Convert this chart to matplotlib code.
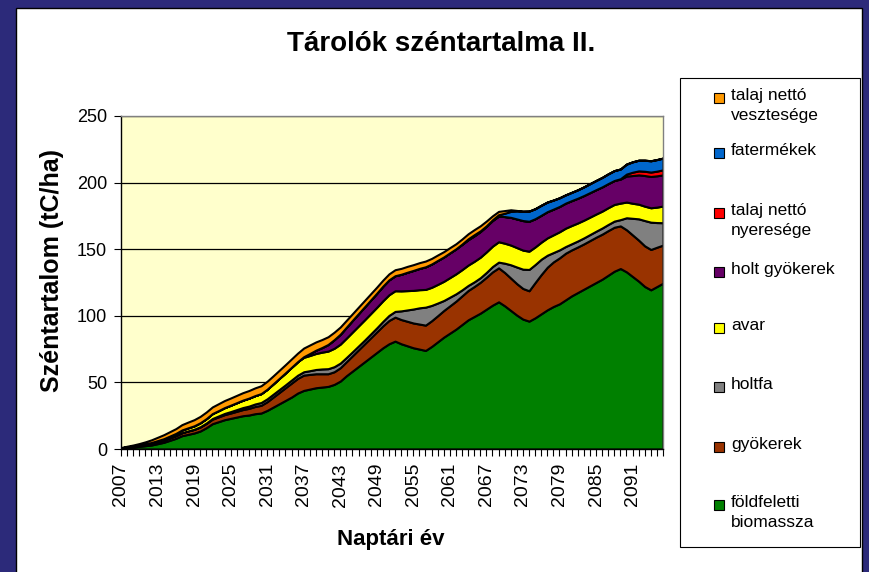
import numpy as np
import matplotlib
matplotlib.use("Agg")
import matplotlib.pyplot as plt
import matplotlib.patches as mpatches
from matplotlib.ticker import MultipleLocator

plt.rcParams['font.family'] = ['Liberation Sans', 'DejaVu Sans']

# --- data (tC/ha per year, stacked bottom -> top) ---
years = np.arange(2007, 2097)

foldfeletti = [
    0.5, 1, 1.5, 2, 2.5, 3, 4, 5, 6.5, 8,
    10, 11, 12, 13.5, 16, 19, 20.5, 22, 23, 24,
    25, 25.5, 26.5, 27, 29, 31.5, 34, 36.5, 39, 42,
    44, 45, 46, 46.5, 47, 48.5, 51, 55, 58.5, 62,
    65.5, 69, 72.5, 76, 79, 81, 79, 77.5, 76, 75,
    74, 77, 80.5, 84, 87, 90, 93.5, 97, 99.5, 102,
    105, 108, 110.5, 107.5, 104, 100.5, 97.5, 96, 98.5, 101.5,
    104.5, 107, 109, 112, 115, 117.5, 120, 122.5, 125, 127.5,
    130.5, 133.5, 135.5, 133, 129.5, 126, 122, 119.5, 122, 124.5,
]
gyokerek = [
    0.3, 0.5, 0.6, 0.8, 1.0, 1.2, 1.4, 1.6, 1.8, 2.0,
    2.2, 2.5, 2.7, 3.0, 3.2, 3.4, 3.6, 3.8, 4.0, 4.3,
    4.6, 5.0, 5.4, 5.8, 6.5, 7.5, 8.5, 9.5, 10.5, 11.0,
    11.5, 11.0, 10.5, 10.0, 9.5, 9.5, 10.0, 10.5, 11.5, 12.5,
    13.5, 14.5, 15.5, 16.5, 17.5, 18.0, 18.2, 18.4, 18.6, 18.8,
    19.0, 19.3, 19.6, 20.0, 20.5, 21.0, 21.5, 22.0, 22.5, 23.2,
    24.0, 25.0, 25.5, 25.0, 24.3, 23.6, 23.0, 22.8, 26.5, 29.5,
    32.0, 33.5, 34.5, 35.0, 34.5, 34.2, 34.0, 34.0, 34.0, 33.8,
    33.5, 33.0, 32.0, 31.6, 31.2, 30.8, 30.5, 30.3, 29.5, 28.6,
]
holtfa = [
    0, 0, 0, 0, 0, 0.1, 0.1, 0.1, 0.1, 0.1,
    0.1, 0.1, 0.1, 0.2, 0.3, 0.5, 0.7, 0.9, 1.1, 1.3,
    1.5, 1.7, 1.9, 2.1, 2.2, 2.2, 2.2, 2.2, 2.3, 2.4,
    2.5, 2.8, 3.2, 3.6, 3.8, 3.8, 3.5, 3.2, 3.0, 2.9,
    2.8, 2.9, 3.0, 3.3, 3.8, 4.3, 6.5, 8.5, 10.5, 12.2,
    13.5, 11.5, 9.5, 7.5, 6.5, 5.5, 4.5, 3.8, 3.5, 3.4,
    3.6, 4.0, 4.3, 7.0, 10.0, 12.5, 14.5, 16.0, 13.5, 11.5,
    9.0, 7.0, 6.0, 5.0, 4.6, 4.5, 4.5, 4.5, 4.5, 4.6,
    4.6, 4.6, 4.7, 9.0, 12.5, 16.0, 19.0, 20.5, 18.5, 16.8,
]
avar = [
    0, 0.1, 0.2, 0.3, 0.4, 0.6, 0.8, 1.0, 1.3, 1.6,
    2.0, 2.3, 2.6, 3.0, 3.3, 3.7, 4.0, 4.4, 4.8, 5.2,
    5.6, 6.0, 6.3, 6.7, 7.2, 7.8, 8.4, 9.0, 9.6, 10.2,
    10.8, 11.4, 12.0, 12.6, 13.2, 13.8, 14.2, 14.5, 14.8, 15.0,
    15.2, 15.3, 15.4, 15.5, 15.5, 15.5, 15.0, 14.5, 14.0, 13.6,
    13.3, 13.6, 14.0, 14.4, 14.7, 15.0, 15.2, 15.3, 15.4, 15.4,
    15.4, 15.3, 15.3, 15.0, 14.8, 14.6, 14.3, 13.7, 13.2, 12.8,
    13.0, 13.3, 13.6, 13.8, 13.7, 13.5, 13.3, 13.1, 12.9, 12.7,
    12.6, 12.5, 12.4, 11.8, 11.3, 11.0, 10.8, 10.8, 11.6, 12.5,
]
holt_gyokerek = [
    0, 0, 0, 0, 0, 0, 0, 0, 0, 0,
    0, 0, 0, 0, 0, 0, 0, 0, 0, 0,
    0, 0, 0, 0, 0, 0, 0, 0, 0, 0,
    0.5, 1.5, 2.5, 3.5, 5.0, 6.5, 7.5, 8.2, 8.8, 9.3,
    9.8, 10.2, 10.6, 11.0, 11.2, 11.3, 12.5, 13.8, 15.0, 16.0,
    17.0, 17.5, 18.0, 18.3, 18.6, 18.8, 19.0, 19.1, 19.2, 19.3,
    19.3, 19.3, 19.3, 20.0, 20.8, 21.5, 22.2, 22.5, 21.2, 20.2,
    19.7, 19.3, 19.0, 18.8, 18.7, 18.6, 18.5, 18.4, 18.3, 18.2,
    18.1, 18.0, 18.0, 19.5, 20.8, 22.0, 23.0, 23.5, 23.5, 23.4,
]
talaj_nyereseg = [0.0] * 82 + [0.3, 1.5, 2.5, 3.0, 3.2, 3.3, 3.5, 3.8]
fatermekek = [0.0] * 56 + [
    0.2, 0.6, 0.8, 0.5, 0.3, 0.5, 1.0, 2.5, 4.5, 6.0,
    7.0, 7.6, 7.5, 7.5, 7.2, 6.8, 6.5, 6.2, 6.2, 6.3,
    6.5, 6.7, 6.9, 7.1, 7.3, 7.4, 7.3, 7.5, 7.8, 8.0,
    8.3, 8.5, 8.7, 8.8,
]
talaj_veszteseg = [
    0.3, 0.5, 0.7, 1.0, 1.5, 2.0, 2.5, 3.0, 3.3, 3.6,
    4.0, 4.3, 4.6, 4.8, 5.0, 5.0, 5.2, 5.3, 5.4, 5.5,
    5.6, 5.7, 5.8, 5.9, 6.0, 6.0, 6.1, 6.2, 6.3, 6.4,
    6.5, 6.4, 6.2, 6.0, 5.8, 5.6, 5.4, 5.2, 5.0, 4.9,
    4.8, 4.7, 4.6, 4.5, 4.5, 4.5, 4.4, 4.4, 4.3, 4.3,
    4.3, 4.2, 4.1, 4.0, 3.9, 3.8, 3.8, 3.8, 3.8, 3.8,
    3.6, 3.0, 2.5, 2.0, 1.2, 0.4, 0, 0, 0, 0,
    0, 0, 0, 0, 0, 0, 0, 0, 0, 0,
    0, 0, 0, 0, 0, 0, 0, 0, 0, 0,
]

series = [foldfeletti, gyokerek, holtfa, avar, holt_gyokerek,
          talaj_nyereseg, fatermekek, talaj_veszteseg]
colors = ["#008000", "#993300", "#808080", "#FFFF00", "#660066",
          "#FF0000", "#0066CC", "#FF9900"]
labels = ["földfeletti\nbiomassza", "gyökerek", "holtfa", "avar",
          "holt gyökerek", "talaj nettó\nnyeresége", "fatermékek",
          "talaj nettó\nvesztesége"]

W, H = 870, 572
fig = plt.figure(figsize=(W / 100, H / 100), dpi=100)
fig.patch.set_facecolor("#2C2A7A")

# white slide area inside the blue frame
slide = mpatches.Rectangle((16 / W, -0.01), (862 - 16) / W, 1.01 - 8 / H,
                           transform=fig.transFigure, facecolor="white",
                           edgecolor="black", linewidth=1, zorder=-1)
fig.add_artist(slide)

ax = fig.add_axes([121 / W, 1 - 449 / H, (663 - 121) / W, (449 - 116) / H])
ax.set_facecolor("#FFFFCC")

ax.stackplot(years, *series, colors=colors, edgecolor="black", linewidth=1.5)

ax.set_xlim(2007, 2096)
ax.set_ylim(0, 250)
ax.set_yticks([0, 50, 100, 150, 200, 250])
ax.set_xticks(np.arange(2007, 2092, 6))
ax.xaxis.set_minor_locator(MultipleLocator(1))
ax.tick_params(axis="x", which="both", direction="out", length=5,
               width=0.8, labelsize=14, labelrotation=90, pad=5)
ax.tick_params(axis="y", direction="out", length=5, width=0.8,
               labelsize=13, pad=5)
ax.yaxis.grid(True, color="black", linewidth=0.9)
ax.set_axisbelow(True)

for s in ["left", "bottom"]:
    ax.spines[s].set_color("black")
    ax.spines[s].set_linewidth(1.0)
for s in ["top", "right"]:
    ax.spines[s].set_color("#808080")
    ax.spines[s].set_linewidth(1.0)

fig.text(441 / W, 1 - 44 / H, "Tárolók széntartalma II.", fontsize=20,
         fontweight="bold", ha="center", va="center")
fig.text(391 / W, 1 - 540 / H, "Naptári év", fontsize=16,
         fontweight="bold", ha="center", va="center")
fig.text(52 / W, 1 - 270 / H, "Széntartalom (tC/ha)", fontsize=18,
         fontweight="bold", ha="center", va="center", rotation=90)

# legend box, entries in reverse stacking order
box = mpatches.Rectangle((680 / W, 1 - 547 / H), (860 - 680) / W, (547 - 78) / H,
                         transform=fig.transFigure, facecolor="white",
                         edgecolor="black", linewidth=0.8)
fig.add_artist(box)
entry_y = [97.7, 153, 213, 271.7, 328, 386.7, 446.7, 505]
for yy, col, lab in zip(entry_y, colors[::-1], labels[::-1]):
    sq = mpatches.Rectangle((714 / W, 1 - (yy + 5) / H), 10 / W, 10 / H,
                            transform=fig.transFigure, facecolor=col,
                            edgecolor="black", linewidth=0.8)
    fig.add_artist(sq)
    fig.text(731 / W, 1 - (yy - 10) / H, lab, fontsize=12.5, ha="left",
             va="top", linespacing=1.45)

fig.savefig("out.png", dpi=100, facecolor=fig.get_facecolor())
